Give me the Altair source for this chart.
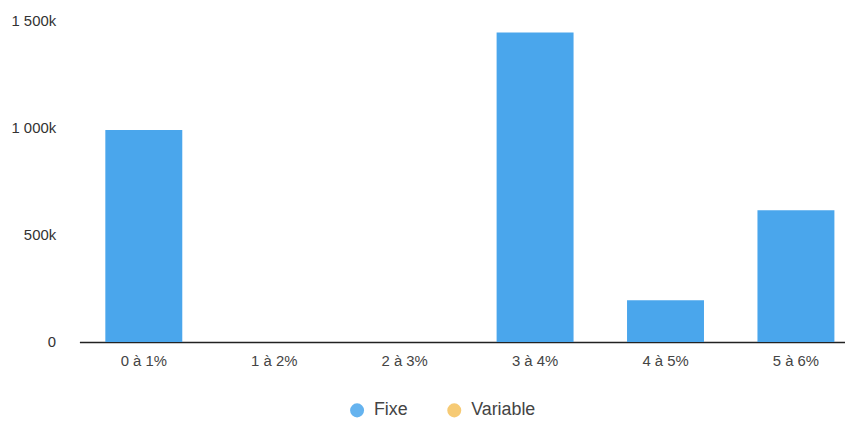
import altair as alt
import pandas as pd

categories = ["0 à 1%", "1 à 2%", "2 à 3%", "3 à 4%", "4 à 5%", "5 à 6%"]
fixe = [990000, 0, 0, 1445000, 195000, 615000]
variable = [0, 0, 0, 0, 0, 0]
series = ["Fixe", "Variable"]
colors = ["#4aa6ec", "#f5c15c"]
y_ticks = [0, 500000, 1000000, 1500000]

rows = []
for c, f, v in zip(categories, fixe, variable):
    rows.append({"cat": c, "type": "Fixe", "value": f})
    rows.append({"cat": c, "type": "Variable", "value": v})
df = pd.DataFrame(rows)

chart = alt.Chart(df).mark_bar().encode(
    x=alt.X("cat:N", sort=categories, title=None,
            scale=alt.Scale(paddingInner=0.41, paddingOuter=0.14, align=0.71),
            axis=alt.Axis(labelAngle=0, ticks=False, domainColor="#222", domainWidth=1.5,
                          labelFontSize=15, labelColor="#444", labelPadding=12,
                          labelFont="Liberation Sans")),
    y=alt.Y("value:Q", stack=True, title=None,
            scale=alt.Scale(domain=[0, 1500000], nice=False),
            axis=alt.Axis(values=y_ticks, grid=False, domain=False, ticks=False,
                          labelExpr="datum.value == 0 ? '0' : replace(format(datum.value/1000, ',.0f'), ',', ' ') + 'k'",
                          labelFontSize=15, labelColor="#333", labelPadding=24,
                          labelFont="Liberation Sans")),
    color=alt.Color("type:N", scale=alt.Scale(domain=series, range=colors),
                    legend=alt.Legend(title=None, orient="none", legendX=271, legendY=384,
                                      direction="horizontal", symbolType="circle",
                                      symbolSize=200, symbolOpacity=0.85, labelFontSize=18,
                                      labelColor="#444", columnPadding=37, labelOffset=8,
                                      padding=0, labelFont="Liberation Sans")),
    order=alt.Order("type:N"),
).properties(
    width=772, height=324,
    autosize=alt.AutoSizeParams(type="none"),
    padding={"left": 72, "top": 11, "right": 0, "bottom": 80},
).configure_view(stroke=None)

chart.save("out.html", embed_options={"renderer": "svg", "actions": False})
